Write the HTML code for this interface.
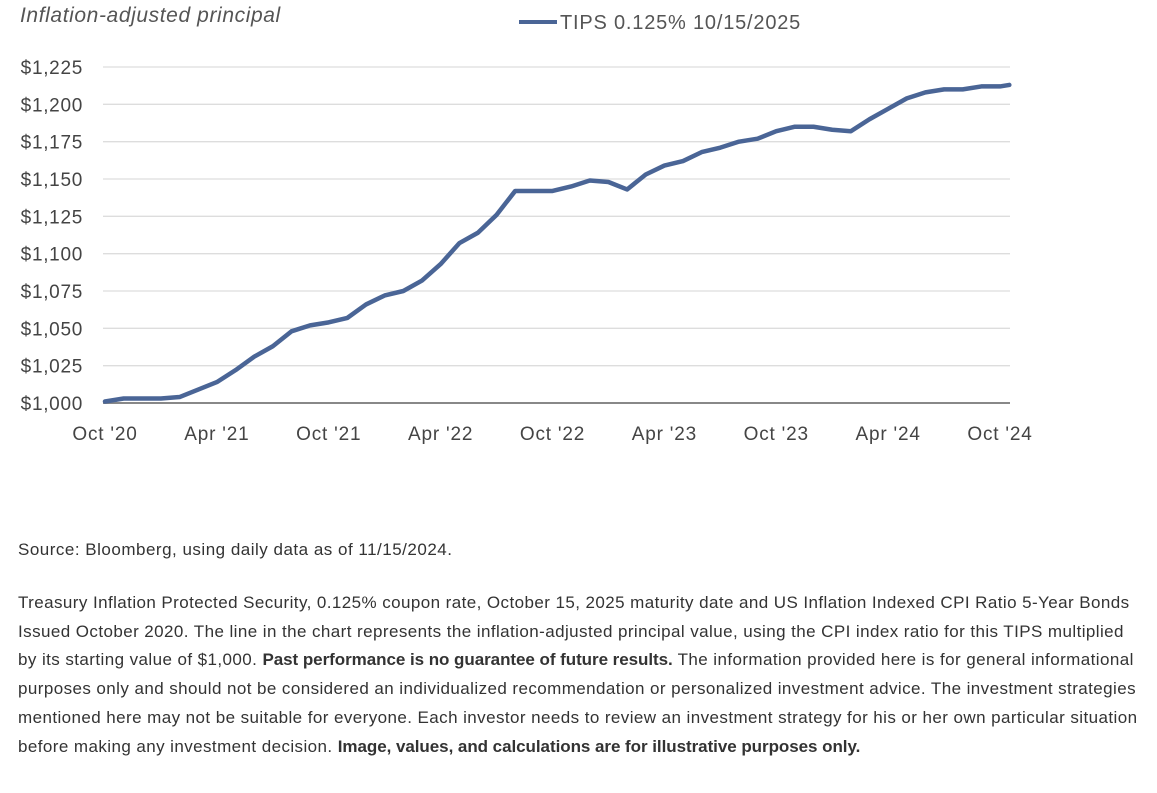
<!DOCTYPE html>
<html><head><meta charset="utf-8">
<style>
body{margin:0;width:1157px;height:793px;background:#fff;font-family:"Liberation Sans",Arial,sans-serif;overflow:hidden;position:relative}
.t{position:absolute;left:18px;color:#333;font-size:17px;letter-spacing:0.5px;white-space:nowrap}
.p{position:absolute;left:18px;top:589px;color:#333;font-size:17px;letter-spacing:0.42px;line-height:28.7px;white-space:nowrap}
.p b{letter-spacing:-0.05px}
</style></head><body>
<svg id="chart" width="1157" height="470" style="position:absolute;left:0;top:0" font-family="Liberation Sans, Arial, sans-serif">
<text x="20" y="22" font-size="21" font-style="italic" letter-spacing="0.6" fill="#555">Inflation-adjusted principal</text>
<g>
<line x1="519" y1="22" x2="557" y2="22" stroke="#4a6596" stroke-width="4"/>
<text x="560" y="29" font-size="20" letter-spacing="0.8" fill="#555">TIPS 0.125% 10/15/2025</text>
</g>
<g id="grid"></g><g id="ticks"></g><g id="series"></g>
</svg>
<div class="t" style="top:540px">Source: Bloomberg, using daily data as of 11/15/2024.</div>
<div class="p">Treasury Inflation Protected Security, 0.125% coupon rate, October 15, 2025 maturity date and US Inflation Indexed CPI Ratio 5-Year Bonds<br>Issued October 2020. The line in the chart represents the inflation-adjusted principal value, using the CPI index ratio for this TIPS multiplied<br>by its starting value of $1,000. <b>Past performance is no guarantee of future results.</b> The information provided here is for general informational<br>purposes only and should not be considered an individualized recommendation or personalized investment advice. The investment strategies<br>mentioned here may not be suitable for everyone. Each investor needs to review an investment strategy for his or her own particular situation<br>before making any investment decision. <b>Image, values, and calculations are for illustrative purposes only.</b></div>
<script>
const yTicks=[1000,1025,1050,1075,1100,1125,1150,1175,1200,1225];
const xLabels=["Oct '20","Apr '21","Oct '21","Apr '22","Oct '22","Apr '23","Oct '23","Apr '24","Oct '24"];
const months=[0,1,2,3,4,5,6,7,8,9,10,11,12,13,14,15,16,17,18,19,20,21,22,23,24,25,26,27,28,29,30,31,32,33,34,35,36,37,38,39,40,41,42,43,44,45,46,47,48,48.5];
const values=[1001,1003,1003,1003,1004,1009,1014,1022,1031,1038,1048,1052,1054,1057,1066,1072,1075,1082,1093,1107,1114,1126,1142,1142,1142,1145,1149,1148,1143,1153,1159,1162,1168,1171,1175,1177,1182,1185,1185,1183,1182,1190,1197,1204,1208,1210,1210,1212,1212,1213];
const NS="http://www.w3.org/2000/svg";
const x=m=>105+m*(895/48);
const y=v=>403-(v-1000)*(336/225);
const g=document.getElementById('grid'),tk=document.getElementById('ticks'),s=document.getElementById('series');
function mk(t,a){const e=document.createElementNS(NS,t);for(const k in a)e.setAttribute(k,a[k]);return e;}
yTicks.forEach(v=>{
 const l=mk('line',{x1:103,x2:1010,y1:y(v),y2:y(v),stroke:v===1000?'#888':'#ddd','stroke-width':v===1000?2:1.3});
 
 
 g.appendChild(l);
 const t=mk('text',{x:83,y:y(v)+7,'text-anchor':'end','font-size':19,'letter-spacing':0.7,fill:'#444'});
 t.textContent='$'+v.toLocaleString('en-US');
 
 
 tk.appendChild(t);
});
xLabels.forEach((lb,i)=>{
 const t=mk('text',{x:x(i*6),y:440,'text-anchor':'middle','font-size':19,'letter-spacing':0.8,fill:'#444'});
 t.textContent=lb;
 
 
 tk.appendChild(t);
});
const p=mk('polyline',{points:months.map((m,i)=>x(m)+','+y(values[i])).join(' '),fill:'none',stroke:'#4a6596','stroke-width':4.5,'stroke-linejoin':'round','stroke-linecap':'round'});


s.appendChild(p);
</script>
</body></html>
